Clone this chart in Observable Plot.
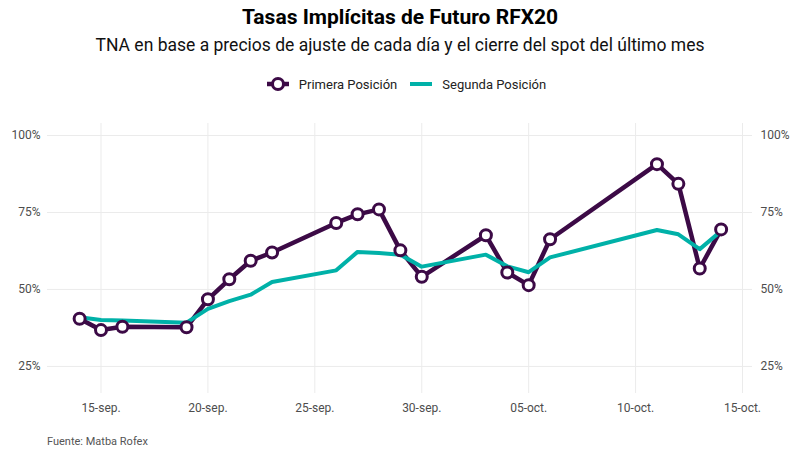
<!DOCTYPE html>
<html><head><meta charset="utf-8">
<script src="https://cdn.jsdelivr.net/npm/d3@7"></script>
<script src="https://cdn.jsdelivr.net/npm/@observablehq/plot@0.6"></script>
<style>
body{margin:0;background:#fff;font-family:Roboto,sans-serif;}
#wrap{position:relative;width:800px;height:457px;overflow:hidden;background:#fff;}
.t{position:absolute;left:0;width:800px;text-align:center;color:#000;white-space:nowrap;}
#title{top:3px;font-size:21px;font-weight:700;line-height:28px;}
#sub{top:33px;font-size:17.5px;line-height:24px;color:#111;}
#legend{position:absolute;top:74px;left:6px;width:800px;display:flex;justify-content:center;align-items:center;font-size:13px;color:#222;height:20px;}
#legend span{margin-right:12px;}
#legend svg{margin-right:9px;}
#chart{position:absolute;top:110px;left:0;}
#cap{position:absolute;top:435px;left:47px;font-size:11px;color:#555;}
</style></head><body>
<div id="wrap">
<div id="title" class="t">Tasas Implícitas de Futuro RFX20</div>
<div id="sub" class="t">TNA en base a precios de ajuste de cada día y el cierre del spot del último mes</div>
<div id="legend"></div>
<div id="chart"></div>
<div id="cap">Fuente: Matba Rofex</div>
</div>
<script>
const dates = ["2022-09-14","2022-09-15","2022-09-16","2022-09-19","2022-09-20","2022-09-21","2022-09-22","2022-09-23","2022-09-26","2022-09-27","2022-09-28","2022-09-29","2022-09-30","2022-10-03","2022-10-04","2022-10-05","2022-10-06","2022-10-11","2022-10-12","2022-10-13","2022-10-14"];
const primera = [40.5, 36.8, 37.9, 37.7, 46.8, 53.3, 59.3, 62.0, 71.6, 74.4, 76.0, 62.7, 54.1, 67.6, 55.5, 51.4, 66.3, 90.7, 84.3, 56.8, 69.5];
const segunda = [41.0, 40.1, 39.9, 39.2, 43.7, 46.2, 48.3, 52.4, 56.2, 62.2, 61.8, 61.3, 57.4, 61.3, 57.5, 55.6, 60.4, 69.3, 67.9, 63.1, 69.0];
const seriesNames = ["Primera Posición", "Segunda Posición"];
const colors = ["#3c0a46", "#00b1a8"];
const tickDates = ["2022-09-15","2022-09-20","2022-09-25","2022-09-30","2022-10-05","2022-10-10","2022-10-15"];
const tickLabels = ["15-sep.","20-sep.","25-sep.","30-sep.","05-oct.","10-oct.","15-oct."];
const yTicks = [25, 50, 75, 100];
const xDomain = ["2022-09-12T11:57Z", "2022-10-15T11:13Z"];
const yDomain = [16.2, 103.9];

const parse = s => new Date(s.length === 10 ? s + "T00:00Z" : s);
const rowsP = dates.map((d, i) => ({date: parse(d), value: primera[i]}));
const rowsS = dates.map((d, i) => ({date: parse(d), value: segunda[i]}));
const xt = tickDates.map(parse);
const labelOf = new Map(xt.map((d, i) => [+d, tickLabels[i]]));

const chart = Plot.plot({
  width: 800, height: 320,
  marginLeft: 47, marginRight: 48, marginTop: 13, marginBottom: 37,
  style: {fontFamily: "Roboto, sans-serif", fontSize: "12px", color: "#4d4d4d", background: "#fff"},
  x: {type: "utc", domain: xDomain.map(parse)},
  y: {domain: yDomain},
  marks: [
    Plot.gridX(xt, {stroke: "#ebebeb", strokeOpacity: 1, strokeWidth: 1}),
    Plot.gridY(yTicks, {stroke: "#ebebeb", strokeOpacity: 1, strokeWidth: 1}),
    Plot.axisX(xt, {tickSize: 0, tickPadding: 10, tickFormat: d => labelOf.get(+d), label: null, fill: "#4d4d4d"}),
    Plot.axisY(yTicks, {anchor: "left", tickSize: 0, tickPadding: 7, tickFormat: d => d + "%", label: null, fill: "#4d4d4d"}),
    Plot.axisY(yTicks, {anchor: "right", tickSize: 0, tickPadding: 8, tickFormat: d => d + "%", label: null, fill: "#4d4d4d"}),
    Plot.line(rowsP, {x: "date", y: "value", stroke: colors[0], strokeWidth: 4.5}),
    Plot.line(rowsS, {x: "date", y: "value", stroke: colors[1], strokeWidth: 4}),
    Plot.dot(rowsP, {x: "date", y: "value", r: 5.5, fill: "#fff", stroke: colors[0], strokeWidth: 3})
  ]
});
document.getElementById("chart").appendChild(chart);

// legend
const lg = document.getElementById("legend");
lg.innerHTML =
  `<svg width="24" height="20"><line x1="1" x2="23" y1="10" y2="10" stroke="${colors[0]}" stroke-width="4.5"/><circle cx="12" cy="10" r="5.5" fill="#fff" stroke="${colors[0]}" stroke-width="3"/></svg><span>${seriesNames[0]}</span>` +
  `<svg width="24" height="20"><line x1="1" x2="23" y1="10" y2="10" stroke="${colors[1]}" stroke-width="4"/></svg><span style="margin-right:0">${seriesNames[1]}</span>`;
</script>
</body></html>
